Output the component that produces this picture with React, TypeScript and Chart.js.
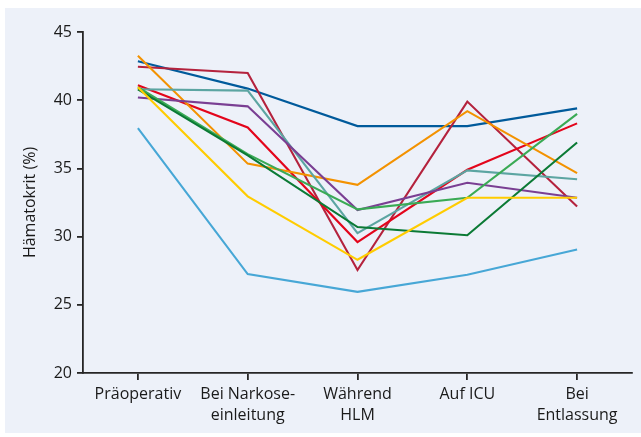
import React, { useEffect, useRef } from "react";
import { Chart, registerables } from "chart.js";

Chart.register(...registerables);

const categories: (string | string[])[] = [
  "Präoperativ",
  ["Bei Narkose-", "einleitung"],
  ["Während", "HLM"],
  "Auf ICU",
  ["Bei", "Entlassung"],
];

const yTicks = [20, 25, 30, 35, 40, 45];

const seriesDarkBlue = [42.85, 40.85, 38.1, 38.1, 39.4];
const seriesCrimson = [42.45, 42.0, 27.55, 39.9, 32.2];
const seriesOrange = [43.25, 35.35, 33.8, 39.2, 34.65];
const seriesTeal = [40.8, 40.7, 30.25, 34.85, 34.2];
const seriesPurple = [40.2, 39.55, 31.95, 33.95, 32.85];
const seriesRed = [41.1, 38.0, 29.6, 34.9, 38.3];
const seriesLightGreen = [40.95, 36.05, 32.0, 32.85, 39.0];
const seriesDarkGreen = [40.8, 35.95, 30.7, 30.1, 36.9];
const seriesYellow = [40.95, 32.95, 28.3, 32.85, 32.85];
const seriesLightBlue = [37.95, 27.25, 25.95, 27.2, 29.05];

const AXIS_COLOR = "#262626";
const TEXT_COLOR = "#1a1a1a";
const FONT = "'Open Sans', 'Noto Sans', sans-serif";

export default function App() {
  const ref = useRef<HTMLCanvasElement | null>(null);

  useEffect(() => {
    if (!ref.current) return;
    const mk = (data: number[], color: string) => ({
      data,
      borderColor: color,
      backgroundColor: color,
      borderWidth: 2.1,
      pointRadius: 0,
      tension: 0,
      fill: false,
    });
    const chart = new Chart(ref.current, {
      type: "line",
      data: {
        labels: categories,
        datasets: [
          mk(seriesLightBlue, "#47a7d6"),
          mk(seriesYellow, "#ffcc00"),
          mk(seriesDarkGreen, "#0b7a35"),
          mk(seriesLightGreen, "#3aaa55"),
          mk(seriesPurple, "#7a3f93"),
          mk(seriesTeal, "#5ca5a2"),
          mk(seriesOrange, "#f39200"),
          mk(seriesRed, "#e3051b"),
          mk(seriesCrimson, "#b4223d"),
          mk(seriesDarkBlue, "#005a9b"),
        ],
      },
      options: {
        animation: false,
        responsive: false,
        maintainAspectRatio: false,
        layout: { padding: { left: 0, top: 24, right: 9, bottom: 0 } },
        plugins: { legend: { display: false }, tooltip: { enabled: false } },
        scales: {
          x: {
            offset: true,
            grid: {
              offset: false,
              drawOnChartArea: false,
              drawTicks: true,
              tickLength: 7,
              color: AXIS_COLOR,
              lineWidth: 1.8,
            },
            border: { display: true, color: AXIS_COLOR, width: 1.8 },
            ticks: {
              color: TEXT_COLOR,
              padding: 4,
              maxRotation: 0,
              autoSkip: false,
              font: { family: FONT, size: 16, lineHeight: 1.3 },
            },
            afterFit: (s: any) => {
              s.height = 60;
            },
          },
          y: {
            min: 20,
            max: 45,
            afterBuildTicks: (s: any) => {
              s.ticks = yTicks.map((v) => ({ value: v }));
            },
            grid: {
              drawOnChartArea: false,
              drawTicks: true,
              tickLength: 6,
              color: AXIS_COLOR,
              lineWidth: 1.8,
            },
            border: { display: true, color: AXIS_COLOR, width: 1.8 },
            ticks: {
              color: TEXT_COLOR,
              padding: 5,
              font: { family: FONT, size: 16 },
            },
            title: {
              display: true,
              text: "Hämatokrit (%)",
              color: TEXT_COLOR,
              padding: { top: 16, bottom: 0 },
              font: { family: FONT, size: 16 },
            },
            afterFit: (s: any) => {
              s.width = 78;
            },
          },
        },
      },
    });
    return () => chart.destroy();
  }, []);

  return (
    <div
      style={{
        position: "fixed",
        left: 0,
        top: 0,
        width: 641,
        height: 437,
        background: "#ffffff",
      }}
    >
      <div
        style={{
          position: "absolute",
          left: 5,
          top: 8,
          width: 636,
          height: 425,
          background: "#edf1f9",
        }}
      >
        <canvas ref={ref} width={636} height={425} style={{ display: "block" }} />
      </div>
    </div>
  );
}
